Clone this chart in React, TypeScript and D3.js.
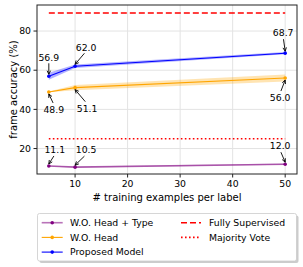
import React from 'react';
import * as d3 from 'd3';

const examples = [5, 10, 50];
const proposed = [56.9, 62.0, 68.7];
const proposedStd = [1.8, 0.9, 0.6];
const noHead = [48.9, 51.1, 56.0];
const noHeadStd = [0.2, 1.3, 1.8];
const noHeadType = [11.1, 10.5, 12.0];
const noHeadTypeStd = [0.3, 0.3, 0.3];
const fullySupervised = 89.2;
const majorityVote = 25.0;
const xTicks = [10, 20, 30, 40, 50];
const yTicks = [20, 40, 60, 80];

const W = 303;
const H = 267;
const L = 37, R = 297, T = 5, B = 174;
const FONT = 'DejaVu Sans, sans-serif';

const x = d3.scaleLinear().domain([2.75, 52.25]).range([L, R]);
const y = d3.scaleLinear().domain([7.0, 93.3]).range([B, T]);

const series = [
  { name: 'W.O. Head + Type', vals: noHeadType, std: noHeadTypeStd, color: '#800080', lineOpacity: 0.55, lw: 1.6,
    // label offsets (text center relative to point, px)
    offs: [[6, -16], [11, -17], [-5, -18]] },
  { name: 'W.O. Head', vals: noHead, std: noHeadStd, color: '#ffa500', lineOpacity: 1, lw: 1.1,
    offs: [[5, 18], [12, 21], [-5, 20]] },
  { name: 'Proposed Model', vals: proposed, std: proposedStd, color: '#0000ff', lineOpacity: 1, lw: 1.1,
    offs: [[0, -19], [11, -19], [-2, -20]] },
];

const line = d3.line<number>().x((_, i) => x(examples[i])).y(d => y(d));

function Arrow({ x1, y1, x2, y2 }: { x1: number; y1: number; x2: number; y2: number }) {
  const a = Math.atan2(y2 - y1, x2 - x1);
  const h = 4;
  const p1 = [x2 - h * Math.cos(a - 0.45), y2 - h * Math.sin(a - 0.45)];
  const p2 = [x2 - h * Math.cos(a + 0.45), y2 - h * Math.sin(a + 0.45)];
  return (
    <g stroke="#000" strokeWidth={0.9} fill="none">
      <line x1={x1} y1={y1} x2={x2} y2={y2} />
      <polyline points={`${p1[0]},${p1[1]} ${x2},${y2} ${p2[0]},${p2[1]}`} />
    </g>
  );
}

export default function App() {
  return (
    <svg width={W} height={H} style={{ position: 'absolute', left: 0, top: 0 }} fontFamily={FONT}>
      <rect width={W} height={H} fill="#fff" />
      {/* grid */}
      {xTicks.map(t => (
        <line key={'gx' + t} x1={x(t)} x2={x(t)} y1={T} y2={B} stroke="#e3e3e3" strokeWidth={1} />
      ))}
      {yTicks.map(t => (
        <line key={'gy' + t} x1={L} x2={R} y1={y(t)} y2={y(t)} stroke="#e3e3e3" strokeWidth={1} />
      ))}
      {/* reference lines */}
      <line x1={x(examples[0])} x2={x(examples[2])} y1={y(fullySupervised)} y2={y(fullySupervised)}
        stroke="#ff0000" strokeWidth={1.6} strokeDasharray="6,3" />
      <line x1={x(examples[0])} x2={x(examples[2])} y1={y(majorityVote)} y2={y(majorityVote)}
        stroke="#ff0000" strokeWidth={1.6} strokeDasharray="1.6,2.4" />
      {/* series */}
      {series.map(s => {
        const area = d3.area<number>()
          .x((_, i) => x(examples[i]))
          .y0((d, i) => y(d - s.std[i]))
          .y1((d, i) => y(d + s.std[i]));
        return (
          <g key={s.name}>
            <path d={area(s.vals) || ''} fill={s.color} fillOpacity={0.3} stroke="none" />
            <path d={line(s.vals) || ''} fill="none" stroke={s.color} strokeOpacity={s.lineOpacity} strokeWidth={s.lw} />
            {s.vals.map((v, i) => (
              <circle key={i} cx={x(examples[i])} cy={y(v)} r={1.8} fill={s.color} />
            ))}
          </g>
        );
      })}
      {/* annotations */}
      {series.map(s => s.vals.map((v, i) => {
        const px = x(examples[i]), py = y(v);
        const [dx, dy] = s.offs[i];
        const tx = px + dx, ty = py + dy;
        const sy = ty + (dy < 0 ? 6 : -7);
        const ey = py + (dy < 0 ? -2 : 2);
        return (
          <g key={s.name + i}>
            <text x={tx} y={ty} dy="0.35em" textAnchor="middle" fontSize={9.3} fill="#000">{v.toFixed(1)}</text>
            <Arrow x1={tx + (px - tx) * 0.15} y1={sy} x2={px} y2={ey} />
          </g>
        );
      }))}
      {/* frame */}
      <rect x={L} y={T} width={R - L} height={B - T} fill="none" stroke="#222" strokeWidth={1} />
      {/* ticks */}
      {xTicks.map(t => (
        <g key={'tx' + t}>
          <line x1={x(t)} x2={x(t)} y1={B} y2={B + 3.5} stroke="#222" />
          <text x={x(t)} y={B + 10} dy="0.35em" textAnchor="middle" fontSize={9.3}>{t}</text>
        </g>
      ))}
      {yTicks.map(t => (
        <g key={'ty' + t}>
          <line x1={L - 3.5} x2={L} y1={y(t)} y2={y(t)} stroke="#222" />
          <text x={L - 6} y={y(t)} dy="0.35em" textAnchor="end" fontSize={9.3}>{t}</text>
        </g>
      ))}
      <text x={(L + R) / 2} y={197.5} dy="0.35em" textAnchor="middle" fontSize={10}># training examples per label</text>
      <text transform={`translate(13.5,${(T + B) / 2}) rotate(-90)`} dy="0.35em" textAnchor="middle" fontSize={10}>frame accuracy (%)</text>
      {/* legend */}
      <rect x={39.5} y={215.5} width={259} height={47.5} rx={2} fill="#aaa" opacity={0.6} />
      <rect x={37.5} y={213.5} width={259} height={47.5} rx={2} fill="#fff" stroke="#ccc" strokeWidth={0.8} />
      {series.map((s, i) => {
        const ly = 222.7 + i * 14.7;
        return (
          <g key={'lg' + s.name}>
            <line x1={41.7} x2={62.7} y1={ly} y2={ly} stroke={s.color} strokeOpacity={s.lineOpacity} strokeWidth={s.lw} />
            <circle cx={52.2} cy={ly} r={1.8} fill={s.color} />
            <text x={70} y={ly} dy="0.35em" fontSize={9.3}>{s.name}</text>
          </g>
        );
      })}
      <line x1={181} x2={201} y1={222.7} y2={222.7} stroke="#ff0000" strokeWidth={1.6} strokeDasharray="6,3" />
      <text x={209} y={222.7} dy="0.35em" fontSize={9.3}>Fully Supervised</text>
      <line x1={181} x2={201} y1={237.4} y2={237.4} stroke="#ff0000" strokeWidth={1.6} strokeDasharray="1.6,2.4" />
      <text x={209} y={237.4} dy="0.35em" fontSize={9.3}>Majority Vote</text>
    </svg>
  );
}
